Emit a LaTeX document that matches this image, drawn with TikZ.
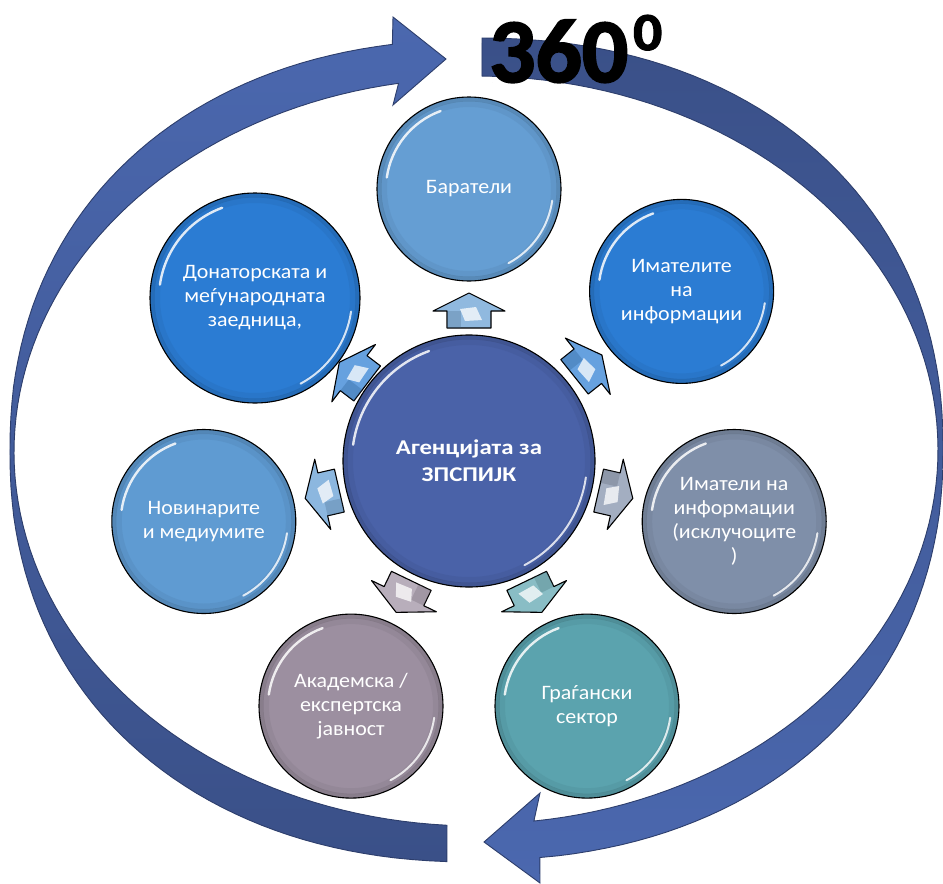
\documentclass[tikz,border=0pt]{standalone}
\usepackage{fontspec}
\setmainfont{Carlito}
\newfontfamily\txtfont[FakeStretch=1.07]{Carlito}
\newfontfamily\ctrfont[FakeStretch=1.18]{Carlito}
\newfontfamily\degfont[FakeBold=2.2]{Carlito}
\usetikzlibrary{calc}
\definecolor{cCenter}{HTML}{4A62A8}
\definecolor{cBar}{HTML}{659ED3}
\definecolor{cIm}{HTML}{2B7CD3}
\definecolor{cImX}{HTML}{7F8FA9}
\definecolor{cGr}{HTML}{5BA3AE}
\definecolor{cAk}{HTML}{9C8FA0}
\definecolor{cNov}{HTML}{5F9BD2}
\definecolor{cDon}{HTML}{2B7CD3}
\definecolor{ringLight}{HTML}{4B68AF}
\definecolor{ringDark}{HTML}{3A5088}
\definecolor{ringEdge}{HTML}{2D3E6C}
\tikzset{
  ball/.style 2 args={circle, fill=#1, draw=black, line width=1.1pt, text=white,
    align=center, inner sep=0pt, minimum size={2*#2*1pt},
    font=\txtfont\fontsize{20.5}{24}\selectfont,
    path picture={
      \coordinate (pc) at (path picture bounding box.center);
      \draw[#1!55!black, opacity=0.28, line width=5pt] (pc) circle[radius={(#2-2)*1pt}];
      \draw[#1!75!black, opacity=0.18, line width=6pt] (pc) circle[radius={(#2-7)*1pt}];
      \draw[white, opacity=0.85, line width=2.4pt, line cap=round]
        ($(pc)+(110:{(#2-9)*1pt})$) arc[start angle=110, end angle=172, radius={(#2-9)*1pt}];
      \draw[white, opacity=0.8, line width=2pt, line cap=round]
        ($(pc)+(-62:{(#2-8)*1pt})$) arc[start angle=-62, end angle=-8, radius={(#2-8)*1pt}];
    }},
  bigarc/.style={draw=ringEdge, line width=0.9pt, line join=miter},
  linkfill/.style={draw=black, line width=1.1pt, line join=round},
}
% block arrow from the centre node towards a target node
\newcommand\linkarrow[4]{% #1 target node, #2 screen angle, #3 colour, #4 distance
  \begin{scope}[shift={($(c.center)!#4pt!(#1.center)$)}, rotate={-(#2)}]
    \filldraw[linkfill, fill=#3!72!white]
      (-17pt,-22pt) -- (0pt,-22pt) -- (0pt,-36pt) -- (18pt,0pt) -- (0pt,36pt) -- (0pt,22pt) -- (-17pt,22pt) -- cycle;
    \fill[#3!60!black, opacity=0.25] (-17pt,8pt) -- (0pt,8pt) -- (0pt,22pt) -- (-17pt,22pt) -- cycle;
    \fill[white, opacity=0.75] (-9pt,-13pt) -- (4pt,-7pt) -- (2pt,9pt) -- (-10pt,4pt) -- cycle;
  \end{scope}
}
\begin{document}
\begin{tikzpicture}[x=1pt,y=-1pt,
  declare function={sp(\a,\p)=sign(\a)*(abs(\a)+0.0001)^\p;}]
\useasboundingbox (0,0) rectangle (943,884);
\fill[white] (0,0) rectangle (943,884);

% big circular arrows
\path[bigarc, top color=ringLight, bottom color=ringDark]
  (447,825.3)
  -- plot[variable=\t, domain=92.8:261.2, samples=90] ({476+466*sp(cos(\t),0.92)},{451+411*sp(sin(\t),0.92)})
  -- (393,17) -- (446,59) -- (393,105)
  -- plot[variable=\t, domain=260.35:93.6, samples=90] ({476+462*cos(\t)},{452+374*sin(\t)})
  -- cycle;
\path[bigarc, top color=ringDark, bottom color=ringLight]
  (482,38)
  -- plot[variable=\t, domain=270.5:443.4, samples=90] ({476+467*sp(cos(\t),0.92)},{449+411*sp(sin(\t),0.92)})
  -- (540,883) -- (484,842) -- (540,793)
  -- plot[variable=\t, domain=442.8:270.74, samples=90] ({476+462*cos(\t)},{450+374*sin(\t)})
  -- cycle;

% centre
\node[ball={cCenter}{126}, font=\ctrfont\bfseries\fontsize{21}{27}\selectfont] (c) at (469,461) {Агенцијата за\\ЗПСПИЈК};

% outer circles
\node[ball={cBar}{92}]  (n0) at (469,189)   {Баратели};
\node[ball={cIm}{92}]   (n1) at (681.6,291.4) {Имателите\\на\\информации};
\node[ball={cImX}{92}]  (n2) at (734.2,521.5) {Иматели на\\информации\\(исклучоците\\)};
\node[ball={cGr}{92}]   (n3) at (587,706.1) {Граѓански\\сектор};
\node[ball={cAk}{92}]   (n4) at (351,706.1) {Академска /\\експертска\\јавност};
\node[ball={cNov}{92}]  (n5) at (203.8,521.5) {Новинарите\\и медиумите};
\node[ball={cDon}{105}] (n6) at (255,298)   {Донаторската и\\меѓународната\\заедница,};

% block arrows
\linkarrow{n0}{-90}{cBar}{150}
\linkarrow{n1}{-38.57}{cIm}{152}
\linkarrow{n2}{12.86}{cImX}{150}
\linkarrow{n3}{64.29}{cGr}{150}
\linkarrow{n4}{115.71}{cAk}{150}
\linkarrow{n5}{167.14}{cNov}{150}
\linkarrow{n6}{217.3}{cDon}{145}

% 360 degrees
\node[anchor=base west, inner sep=0pt] (deg) at (489,82) {\resizebox{139pt}{62pt}{\degfont\bfseries 360}};
\node[anchor=base west, inner sep=0pt] (degsup) at (633,50) {\resizebox{29pt}{35pt}{\degfont\bfseries 0}};
\end{tikzpicture}
\end{document}
